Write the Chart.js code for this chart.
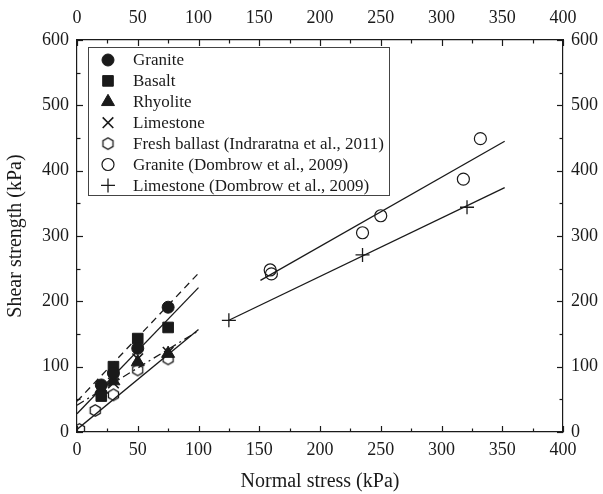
<!DOCTYPE html>
<html><head><meta charset="utf-8">
<script src="https://cdn.jsdelivr.net/npm/chart.js@4.4.1/dist/chart.umd.min.js"></script>
<style>html,body{margin:0;padding:0;background:#fff}#wrap{width:603px;height:494px}</style>
</head><body><div id="wrap"><canvas id="c" width="603" height="494"></canvas></div>
<script>
// ---- tick labels ----
const xTicks = [0, 50, 100, 150, 200, 250, 300, 350, 400];
const yTicks = [0, 100, 200, 300, 400, 500, 600];
// ---- legend names ----
const seriesNames = ['Granite', 'Basalt', 'Rhyolite', 'Limestone',
  'Fresh ballast (Indraratna et al., 2011)', 'Granite (Dombrow et al., 2009)', 'Limestone (Dombrow et al., 2009)'];
// ---- measured points ----
const graniteX = [20, 30, 50, 75],            graniteY = [72, 90, 128, 191];
const basaltX = [20, 30, 50, 75],             basaltY = [55, 100, 143, 160];
const rhyoliteX = [20, 30, 50, 75],           rhyoliteY = [65, 78, 107, 120];
const limestoneX = [20, 30, 50, 75],          limestoneY = [62, 75, 112, 122];
const ballastX = [2, 15, 30, 50, 75],         ballastY = [4, 33, 57, 95, 112];
const dGraniteX = [159, 160, 235, 250, 318, 332], dGraniteY = [248, 242, 305, 331, 387, 449];
const dLimestoneX = [125, 235, 321],          dLimestoneY = [171, 271, 344];
// ---- fitted lines (end points) ----
const fitGraniteX = [0, 100],     fitGraniteY = [47, 243];
const fitBasaltX = [0, 100],      fitBasaltY = [28, 221];
const fitRhyoliteX = [0, 100],    fitRhyoliteY = [41, 155];
const fitBallastX = [0, 100],     fitBallastY = [4, 157];
const fitDGraniteX = [151, 352],  fitDGraniteY = [232, 445];
const fitDLimestoneX = [125, 352], fitDLimestoneY = [171, 374];

const serif = "'Liberation Serif','Times New Roman',serif";
Chart.defaults.font.family = serif;
const INK = '#1a1a1a';

function pts(xs, ys) { return xs.map((x, i) => ({ x: x, y: ys[i] })); }

// hexagon marker canvas
function hexCanvas(r, lw) {
  const s = Math.ceil(2 * r + lw + 2);
  const c = document.createElement('canvas'); c.width = s; c.height = s;
  const g = c.getContext('2d'); g.strokeStyle = INK; g.lineWidth = lw;
  g.beginPath();
  for (let i = 0; i < 6; i++) {
    const a = Math.PI / 6 + i * Math.PI / 3;
    const px = s / 2 + r * Math.cos(a), py = s / 2 + r * Math.sin(a);
    if (i === 0) g.moveTo(px, py); else g.lineTo(px, py);
  }
  g.closePath(); g.stroke();
  return c;
}
const hex = hexCanvas(5.8, 1.3);

function markerSet(label, xs, ys, style, radius, fill, bw) {
  return { label: label, data: pts(xs, ys), pointStyle: style, pointRadius: radius, pointHoverRadius: radius,
    backgroundColor: fill, borderColor: INK, pointBorderWidth: bw, borderWidth: bw, showLine: false, order: 0, isMarker: true };
}
function lineSet(xs, ys, dash) {
  return { label: '', data: pts(xs, ys), showLine: true, pointRadius: 0, borderColor: INK, borderWidth: 1.3,
    borderDash: dash, fill: false, order: 1, isMarker: false };
}

const datasets = [
  markerSet(seriesNames[0], graniteX, graniteY, 'circle', 6, INK, 1),
  markerSet(seriesNames[1], basaltX, basaltY, 'rect', 7.5, INK, 1),
  markerSet(seriesNames[2], rhyoliteX, rhyoliteY, 'triangle', 7.5, INK, 1),
  markerSet(seriesNames[3], limestoneX, limestoneY, 'crossRot', 7.5, INK, 1.6),
  markerSet(seriesNames[4], ballastX, ballastY, hex, 6, 'rgba(0,0,0,0)', 1.3),
  markerSet(seriesNames[5], dGraniteX, dGraniteY, 'circle', 6, 'rgba(0,0,0,0)', 1.2),
  markerSet(seriesNames[6], dLimestoneX, dLimestoneY, 'cross', 7, INK, 1.3),
  lineSet(fitGraniteX, fitGraniteY, [7, 5]),
  lineSet(fitBasaltX, fitBasaltY, []),
  lineSet(fitRhyoliteX, fitRhyoliteY, [8, 4, 2, 4]),
  lineSet(fitBallastX, fitBallastY, []),
  lineSet(fitDGraniteX, fitDGraniteY, []),
  lineSet(fitDLimestoneX, fitDLimestoneY, [])
];

function axis(pos, min, max, ticksArr, size, pad, title) {
  const o = {
    type: 'linear', position: pos, min: min, max: max,
    afterBuildTicks: s => { s.ticks = ticksArr.map(v => ({ value: v })); },
    ticks: { font: { family: serif, size: 18 }, color: INK, padding: pad, maxRotation: 0, autoSkip: false },
    grid: { display: false, drawTicks: false },
    border: { display: true, color: INK, width: 1.2 },
    afterFit: s => { if (pos === 'left' || pos === 'right') s.width = size; else s.height = size; }
  };
  if (title) o.title = { display: true, text: title, font: { family: serif, size: 20 }, color: INK, padding: { top: 4, bottom: 0 } };
  return o;
}

// inward major + minor ticks drawn via the scales
const tickPlugin = {
  id: 'inTicks',
  afterDraw(chart) {
    const ctx = chart.ctx, a = chart.chartArea;
    ctx.save(); ctx.strokeStyle = INK; ctx.lineWidth = 1.2;
    const draw = (scaleId) => {
      const s = chart.scales[scaleId];
      const arr = scaleId.startsWith('x') ? xTicks : yTicks;
      const vals = [];
      for (let i = 0; i < arr.length; i++) {
        vals.push([arr[i], 6]);
        if (i < arr.length - 1) vals.push([(arr[i] + arr[i + 1]) / 2, 3.5]);
      }
      vals.forEach(([v, len]) => {
        const p = Math.round(s.getPixelForValue(v)) + 0.5;
        ctx.beginPath();
        if (s.position === 'bottom') { ctx.moveTo(p, a.bottom); ctx.lineTo(p, a.bottom - len); }
        else if (s.position === 'top') { ctx.moveTo(p, a.top); ctx.lineTo(p, a.top + len); }
        else if (s.position === 'left') { ctx.moveTo(a.left, p); ctx.lineTo(a.left + len, p); }
        else { ctx.moveTo(a.right, p); ctx.lineTo(a.right - len, p); }
        ctx.stroke();
      });
    };
    ['x', 'x2', 'y', 'y2'].forEach(id => draw(id));
    ctx.restore();
  }
};

// boxed legend inside the plot
const legendPlugin = {
  id: 'boxLegend',
  afterDraw(chart) {
    const ctx = chart.ctx, a = chart.chartArea;
    const bx = a.left + 11, by = a.top + 7, bw = 301, bh = 148, row = 20.9;
    ctx.save();
    ctx.fillStyle = '#fff'; ctx.fillRect(bx, by, bw, bh);
    ctx.strokeStyle = '#444'; ctx.lineWidth = 1; ctx.strokeRect(bx + 0.5, by + 0.5, bw, bh);
    ctx.font = '17px ' + serif; ctx.textBaseline = 'middle'; ctx.fillStyle = INK;
    chart.data.datasets.filter(d => d.isMarker).forEach((d, i) => {
      const cy = by + 13 + i * row, cx = bx + 20;
      ctx.fillStyle = d.backgroundColor; ctx.strokeStyle = INK; ctx.lineWidth = d.pointBorderWidth;
      Chart.helpers.drawPoint(ctx, { pointStyle: d.pointStyle, radius: d.pointRadius, borderWidth: d.pointBorderWidth, rotation: 0 }, cx, cy);
      ctx.fillStyle = INK;
      ctx.fillText(d.label, bx + 45, cy + 1);
    });
    ctx.restore();
  }
};

new Chart(document.getElementById('c'), {
  type: 'scatter',
  data: { datasets: datasets },
  options: {
    responsive: false, animation: false, devicePixelRatio: 1,
    layout: { padding: 0 },
    plugins: { legend: { display: false }, tooltip: { enabled: false } },
    scales: {
      x: axis('bottom', 0, 400, xTicks, 62, 7, 'Normal stress (kPa)'),
      x2: axis('top', 0, 400, xTicks, 40, 11, null),
      y: axis('left', 0, 600, yTicks, 77, 8, 'Shear strength (kPa)'),
      y2: axis('right', 0, 600, yTicks, 40, 8, null)
    }
  },
  plugins: [tickPlugin, legendPlugin]
});
</script>
</body></html>
